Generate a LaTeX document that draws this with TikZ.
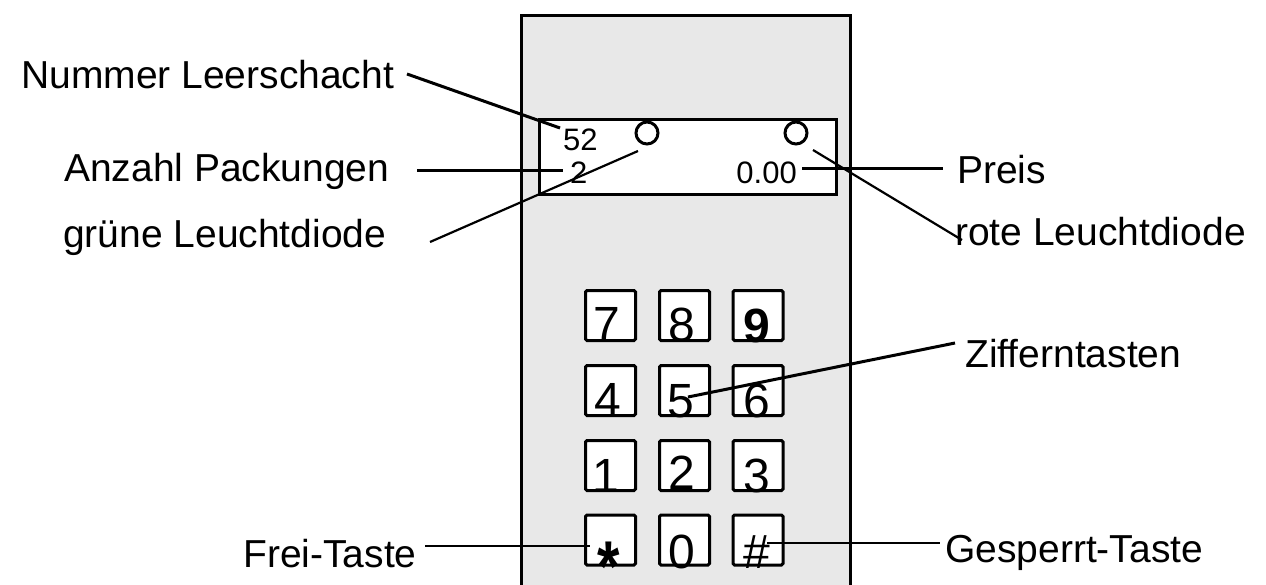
\documentclass[tikz,border=0pt]{standalone}
\usepackage{fontspec}
\setmainfont{Liberation Sans}
\definecolor{panelgray}{RGB}{232,232,232}
\begin{document}
\begin{tikzpicture}[x=1pt,y=-1pt,
  lab/.style={inner sep=0pt, anchor=base west, font=\fontsize{39}{39}\selectfont},
  keybox/.style={draw, line width=3pt, fill=white, rounded corners=1.5pt, minimum width=50pt, minimum height=50pt, inner sep=0pt},
  digit/.style={inner sep=0pt, anchor=base, font=\fontsize{48}{48}\selectfont},
  disptext/.style={inner sep=0pt, font=\fontsize{31}{31}\selectfont},
  led/.style={draw, circle, line width=3pt, minimum size=22pt, inner sep=0pt},
  leadthick/.style={line width=3pt},
  leadthin/.style={line width=2.2pt},
]
\useasboundingbox (0,0) rectangle (1266,584);
\clip (0,0) rectangle (1266,584);
% panel
\draw[line width=3pt, fill=panelgray] (521,15) rectangle (850,620);
% display
\node[draw, line width=3pt, fill=white, minimum width=297pt, minimum height=75pt, inner sep=0pt, anchor=north west] (display) at (538,118) {};
\node[led] (gled) at (647,133) {};
\node[led] (rled) at (796,133) {};
\node[disptext, anchor=base west] (n52) at (563,150) {52};
\node[disptext, anchor=base west] (n2) at (570,183) {2};
\node[disptext, anchor=base east] (n000) at (797,183) {0.00};
% keys
\node[keybox] (k7) at (610.5,315.5) {};
\node[keybox] (k8) at (684.5,315.5) {};
\node[keybox] (k9) at (758,315.5) {};
\node[keybox] (k4) at (610.5,390.5) {};
\node[keybox] (k5) at (684.5,390.5) {};
\node[keybox] (k6) at (758,390.5) {};
\node[keybox] (k1) at (610.5,465.5) {};
\node[keybox] (k2) at (684.5,465.5) {};
\node[keybox] (k3) at (758,465.5) {};
\node[keybox] (kstar) at (610.5,540) {};
\node[keybox] (k0) at (684.5,540) {};
\node[keybox] (khash) at (758,540) {};
\node[digit] (d7) at (607,340) {7};
\node[digit] (d8) at (682,341) {8};
\node[digit, font=\fontsize{48}{48}\selectfont\bfseries] (d9) at (757,342) {9};
\node[digit] (d4) at (608,416) {4};
\node[digit] (d5) at (681,417) {5};
\node[digit] (d6) at (757,417) {6};
\node[digit] (d1) at (606,492) {1};
\node[digit] (d2) at (682,489) {2};
\node[digit] (d3) at (757,492) {3};
\node[digit, font=\fontsize{72}{72}\selectfont\bfseries] (dstar) at (609,591) {\scalebox{0.8}[1]{*}};
\node[digit] (d0) at (682,568) {0};
\node[digit] (dhash) at (757,568) {\#};
% labels
\node[lab] (lnum) at (21,88) {Nummer Leerschacht};
\node[lab] (lanz) at (64,181) {Anzahl Packungen};
\node[lab] (lgr) at (63,247) {grüne Leuchtdiode};
\node[lab] (lpreis) at (957,183) {Preis};
\node[lab] (lrot) at (955,245) {rote Leuchtdiode};
\node[lab] (lziff) at (965,367) {Zifferntasten};
\node[lab] (lfrei) at (243,567) {Frei-Taste};
\node[lab] (lges) at (945,562) {Gesperrt-Taste};
% leader end points
\coordinate (a1) at (407,74);  \coordinate (a2) at (560,128);
\coordinate (b1) at (417,170); \coordinate (b2) at (563,170);
\coordinate (c1) at (430,242); \coordinate (c2) at (638,151);
\coordinate (e1) at (802,168); \coordinate (e2) at (943,168);
\coordinate (f1) at (813,150); \coordinate (f2) at (962,240);
\coordinate (g1) at (955,343); \coordinate (g2) at (688,397);
\coordinate (h1) at (425,546); \coordinate (h2) at (590,546);
\coordinate (i1) at (767,543); \coordinate (i2) at (940,543);
\draw[leadthick] (a1) -- (a2);
\draw[leadthick] (b1) -- (b2);
\draw[leadthin] (c1) -- (c2);
\draw[leadthick] (e1) -- (e2);
\draw[leadthin] (f1) -- (f2);
\draw[leadthick] (g1) -- (g2);
\draw[leadthin] (h1) -- (h2);
\draw[leadthin] (i1) -- (i2);
\end{tikzpicture}
\end{document}
